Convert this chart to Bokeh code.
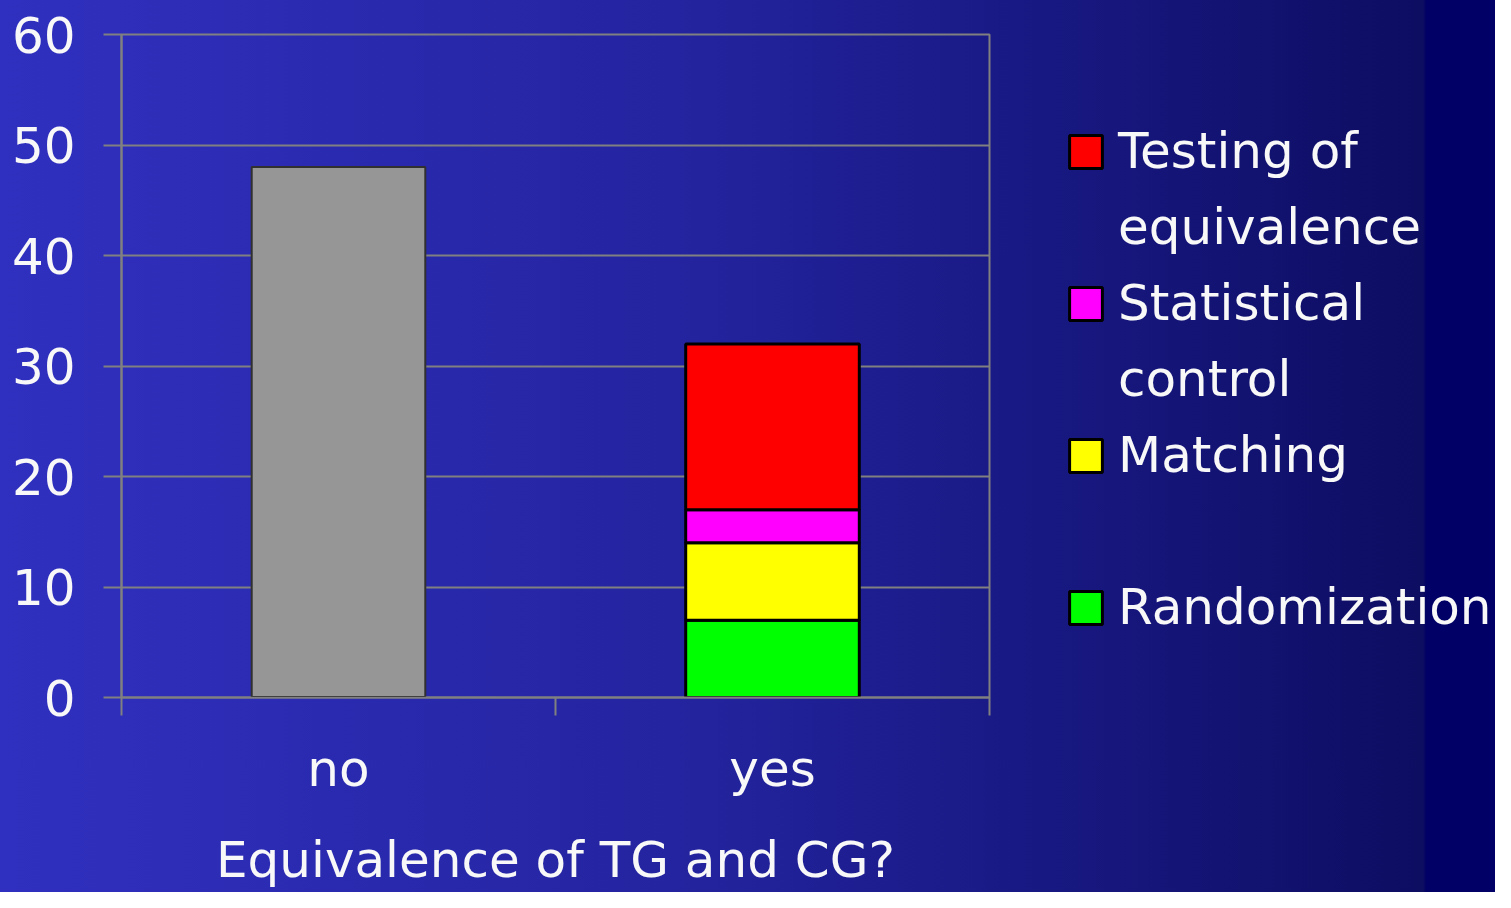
from bokeh.plotting import figure
from bokeh.layouts import row
from bokeh.models import (FactorRange, Range1d, LinearAxis, FixedTicker, Legend, LegendItem,
                          ColumnDataSource, CategoricalAxis)
from bokeh.embed import file_html
from bokeh.resources import INLINE

# ---- data ----
categories = ["no", "yes"]
no_values = [48, 0]
methods = ["Randomization", "Matching", "Statistical control", "Testing of equivalence"]
method_values = {
    "Randomization": [0, 7],
    "Matching": [0, 7],
    "Statistical control": [0, 3],
    "Testing of equivalence": [0, 15],
}
method_colors = ["#00ff00", "#ffff00", "#ff00ff", "#ff0000"]
# legend rows: (method or None for a continuation line, text)
legend_rows = [
    ("Testing of equivalence", "Testing of"),
    (None, "equivalence"),
    ("Statistical control", "Statistical"),
    (None, "control"),
    ("Matching", "Matching"),
    (None, "\u00a0"),
    ("Randomization", "Randomization"),
]
y_ticks = [0, 10, 20, 30, 40, 50, 60]
x_title = "Equivalence of TG and CG?"

FONT = "DejaVu Sans"
GRID = "#808080"
TXT = "#f8f8f8"

H = 892
WA, WB = 1040, 455

src = ColumnDataSource(dict(x=categories, no=no_values, **method_values))

# ---------------- chart figure ----------------
p = figure(width=WA, height=H, output_backend="svg", toolbar_location=None,
           x_range=FactorRange(factors=categories, range_padding=0, factor_padding=0),
           y_range=Range1d(0, 60),
           x_axis_location=None, y_axis_location=None,
           min_border_left=121, min_border_right=WA - 989, min_border_top=34, min_border_bottom=195)
p.background_fill_alpha = 0
p.border_fill_alpha = 0
p.outline_line_color = GRID
p.outline_line_width = 2

p.vbar(x="x", top="no", width=0.4, source=src, fill_color="#969696",
       line_color="#303030", line_width=2)
stack = p.vbar_stack(methods, x="x", width=0.4, source=src, fill_color=method_colors,
                     line_color="black", line_width=3)

yax = LinearAxis(ticker=FixedTicker(ticks=y_ticks))
yax.axis_line_color = GRID
yax.axis_line_width = 2
yax.major_tick_line_color = GRID
yax.major_tick_line_width = 2
yax.major_tick_out = 18
yax.major_tick_in = 0
yax.minor_tick_line_color = None
yax.major_label_text_font = FONT
yax.major_label_text_font_size = "50px"
yax.major_label_text_color = TXT
yax.major_label_standoff = 28
p.add_layout(yax, "left")

xtick_ax = LinearAxis(ticker=FixedTicker(ticks=[0, 1, 2]))
xtick_ax.axis_line_color = GRID
xtick_ax.axis_line_width = 2
xtick_ax.major_tick_line_color = GRID
xtick_ax.major_tick_line_width = 2
xtick_ax.major_tick_out = 18
xtick_ax.major_tick_in = 0
xtick_ax.minor_tick_line_color = None
xtick_ax.major_label_text_font_size = "0px"
xtick_ax.major_label_standoff = 0
p.add_layout(xtick_ax, "below")

xcat = CategoricalAxis()
xcat.axis_line_color = None
xcat.major_tick_line_color = None
xcat.major_tick_out = 0
xcat.major_label_text_font = FONT
xcat.major_label_text_font_size = "50px"
xcat.major_label_text_color = TXT
xcat.major_label_standoff = 24
xcat.axis_label = x_title
xcat.axis_label_text_font = FONT
xcat.axis_label_text_font_size = "50px"
xcat.axis_label_text_font_style = "normal"
xcat.axis_label_text_color = TXT
xcat.axis_label_standoff = 30
p.add_layout(xcat, "below")

p.ygrid.ticker = FixedTicker(ticks=y_ticks)
p.ygrid.grid_line_color = GRID
p.ygrid.grid_line_width = 2
p.xgrid.grid_line_color = None

# ---------------- legend figure ----------------
pl = figure(width=WB, height=H, output_backend="svg", toolbar_location=None,
            x_range=FactorRange(factors=categories), y_range=Range1d(0, 60),
            x_axis_location=None, y_axis_location=None,
            min_border=0, min_border_left=0, min_border_right=0,
            min_border_top=0, min_border_bottom=0)
pl.background_fill_alpha = 0
pl.border_fill_alpha = 0
pl.outline_line_color = None
pl.grid.grid_line_color = None

# same stacked series, hidden: only their legend keys are shown here
key_stack = pl.vbar_stack(methods, x="x", width=0.4, source=src, fill_color=method_colors,
                          line_color="black", line_width=3)
for r in key_stack:
    r.visible = False
key_renderers = dict(zip(methods, key_stack))

items = [LegendItem(label=text, renderers=[key_renderers[m]] if m else [])
         for m, text in legend_rows]
legend = Legend(items=items, location=(25, 61))
legend.background_fill_alpha = 0
legend.border_line_color = None
legend.inactive_fill_alpha = 0
legend.padding = 0
legend.margin = 0
legend.spacing = 18
legend.glyph_width = 41
legend.glyph_height = 41
legend.label_standoff = 12
legend.label_text_font = FONT
legend.label_text_font_size = "50px"
legend.label_text_color = TXT
pl.add_layout(legend, "center")

layout = row(p, pl, spacing=0)
layout.styles = {"background": "linear-gradient(to right, #3030c0 0%, #2424a0 45%, #191985 68%, #0d0d62 95.2%, #000066 95.4%, #000066 100%)"}

open("out.html", "w").write(file_html(layout, INLINE))
